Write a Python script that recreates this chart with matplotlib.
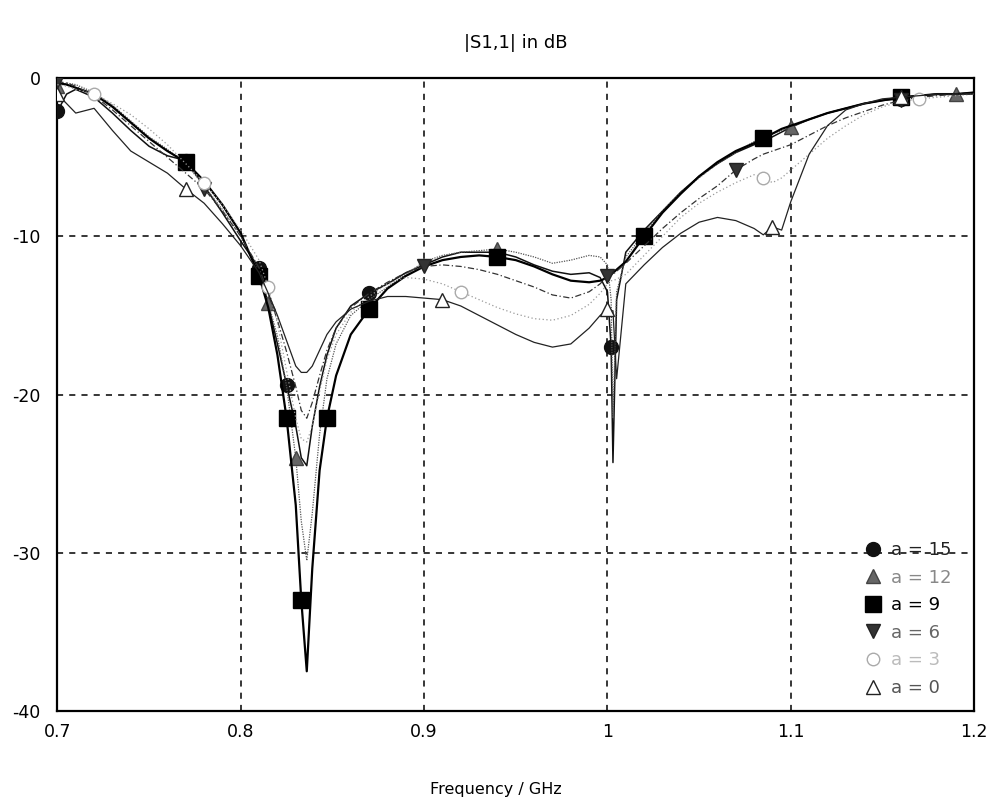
import matplotlib
matplotlib.use("Agg")
import matplotlib.pyplot as plt
from matplotlib.ticker import FixedLocator

plt.rcParams['font.family'] = ['DejaVu Sans']
plt.rcParams['axes.unicode_minus'] = False

title = "|S1,1| in dB"
xlabel = "Frequency / GHz"
xticks = [0.7, 0.8, 0.9, 1.0, 1.1, 1.2]
xticklabels = ["0.7", "0.8", "0.9", "1", "1.1", "1.2"]
yticks = [0, -10, -20, -30, -40]
yticklabels = ["0", "-10", "-20", "-30", "-40"]

freq = [0.700, 0.705, 0.710, 0.720, 0.730, 0.740, 0.750, 0.760, 0.770, 0.780,
        0.790, 0.800, 0.810, 0.815, 0.820, 0.825, 0.830, 0.833, 0.836, 0.839,
        0.843, 0.847, 0.852, 0.860, 0.870, 0.880, 0.890, 0.900, 0.910, 0.920,
        0.930, 0.940, 0.950, 0.960, 0.970, 0.980, 0.990, 0.996, 1.000, 1.002,
        1.003, 1.005, 1.010, 1.020, 1.030, 1.040, 1.050, 1.060, 1.070, 1.080,
        1.085, 1.090, 1.095, 1.100, 1.110, 1.120, 1.130, 1.140, 1.150, 1.160,
        1.170, 1.180, 1.190, 1.200]

s11_a15 = [-2.1, -1.0, -0.7, -1.2, -2.2, -3.3, -4.3, -4.9, -5.2, -6.8,
           -8.5, -10.3, -12.0, -14.3, -16.8, -19.4, -22.0, -24.0, -24.5, -22.0,
           -19.5, -17.5, -15.8, -14.4, -13.6, -13.0, -12.3, -11.8, -11.3, -11.0,
           -11.0, -11.0, -11.3, -11.8, -12.2, -12.4, -12.3, -12.6, -13.5, -17.0,
           -24.3, -14.0, -11.0, -9.6, -8.4, -7.2, -6.2, -5.4, -4.7, -4.2,
           -4.0, -3.7, -3.4, -3.1, -2.6, -2.2, -1.9, -1.6, -1.4, -1.3,
           -1.1, -1.0, -1.0, -0.9]
s11_a12 = [-0.5, -0.3, -0.4, -0.9, -1.7, -2.7, -3.7, -4.5, -5.4, -6.8,
           -8.3, -10.0, -12.3, -14.2, -16.3, -19.5, -24.0, -28.0, -30.5, -27.5,
           -22.5, -19.0, -16.8, -15.0, -14.0, -13.2, -12.4, -11.6, -11.2, -11.0,
           -10.9, -10.8, -11.0, -11.3, -11.7, -11.5, -11.2, -11.3, -11.8, -14.0,
           -21.5, -13.5, -11.3, -9.8, -8.4, -7.2, -6.3, -5.4, -4.7, -4.0,
           -3.8, -3.5, -3.3, -3.1, -2.6, -2.2, -1.9, -1.6, -1.4, -1.2,
           -1.1, -1.0, -1.0, -1.0]
s11_a9 = [-0.3, -0.4, -0.6, -1.0, -1.8, -2.8, -3.8, -4.6, -5.3, -6.5,
          -8.0, -9.8, -12.5, -14.5, -17.5, -21.5, -27.0, -33.0, -37.5, -31.0,
          -24.8, -21.5, -18.8, -16.2, -14.6, -13.3, -12.5, -11.9, -11.5, -11.3,
          -11.2, -11.3, -11.5, -11.9, -12.4, -12.8, -12.9, -12.8, -12.6, -12.4,
          -12.3, -12.1, -11.6, -10.0, -8.5, -7.3, -6.2, -5.3, -4.6, -4.1,
          -3.8, -3.5, -3.2, -3.0, -2.6, -2.2, -1.9, -1.6, -1.4, -1.2,
          -1.1, -1.0, -1.0, -0.9]
s11_a6 = [-0.2, -0.3, -0.5, -1.1, -2.0, -3.0, -4.0, -5.0, -6.0, -7.0,
          -8.4, -10.0, -12.0, -13.6, -15.3, -17.3, -19.5, -21.0, -21.5, -20.5,
          -18.8, -17.2, -15.8, -14.5, -13.6, -12.9, -12.3, -11.9, -11.8, -11.9,
          -12.1, -12.4, -12.8, -13.2, -13.7, -13.9, -13.5, -13.0, -12.5, -12.4,
          -12.4, -12.2, -11.7, -10.6, -9.5, -8.5, -7.6, -6.8, -5.8, -5.1,
          -4.8, -4.6, -4.4, -4.2, -3.6, -3.0, -2.5, -2.1, -1.7, -1.4,
          -1.2, -1.1, -1.0, -1.0]
s11_a3 = [-0.4, -0.5, -0.7, -1.0, -1.6, -2.3, -3.2, -4.2, -5.4, -6.6,
          -8.0, -9.6, -11.5, -13.2, -15.5, -18.5, -21.5, -22.8, -23.0, -22.0,
          -19.8, -17.8, -16.2, -14.8, -13.8, -13.0, -12.6, -12.7, -13.0, -13.5,
          -14.0, -14.5, -14.9, -15.2, -15.3, -15.0, -14.3, -13.6, -13.0, -12.8,
          -12.8, -12.7, -12.4, -11.2, -10.0, -8.8, -7.9, -7.2, -6.6, -6.1,
          -6.3, -6.6, -6.3, -5.8, -4.8, -3.8, -3.0, -2.3, -1.8, -1.5,
          -1.3, -1.2, -1.1, -1.0]
s11_a0 = [-1.0, -1.6, -2.2, -1.9, -3.3, -4.6, -5.3, -6.0, -7.0, -7.9,
          -9.2, -10.6, -12.3, -13.6, -15.0, -16.6, -18.2, -18.6, -18.6, -18.2,
          -17.2, -16.2, -15.4, -14.6, -14.1, -13.8, -13.8, -13.9, -14.0, -14.4,
          -15.0, -15.6, -16.2, -16.7, -17.0, -16.8, -15.8, -15.0, -14.6, -14.7,
          -14.7, -19.0, -13.0, -11.8, -10.7, -9.8, -9.1, -8.8, -9.0, -9.5,
          -9.9, -9.4, -9.6, -7.8, -4.8, -3.0, -2.0, -1.6, -1.3, -1.2,
          -1.1, -1.0, -1.0, -1.0]

labels = ["a = 15", "a = 12", "a = 9", "a = 6", "a = 3", "a = 0"]
series = [s11_a15, s11_a12, s11_a9, s11_a6, s11_a3, s11_a0]

styles = [
    dict(color="#111111", lw=1.1, ls="-", marker="o", mfc="#111111", mec="#111111", ms=10,
         markevery=[0, 8, 12, 15, 24, 39, 59]),
    dict(color="#555555", lw=0.9, ls=(0, (1, 1)), marker="^", mfc="#666666", mec="#444444", ms=10,
         markevery=[0, 13, 16, 31, 53, 62]),
    dict(color="#000000", lw=1.6, ls="-", marker="s", mfc="#000000", mec="#000000", ms=11,
         markevery=[8, 12, 15, 17, 21, 24, 31, 43, 50, 59]),
    dict(color="#333333", lw=0.9, ls=(0, (5, 2, 1, 2)), marker="v", mfc="#333333", mec="#222222", ms=10,
         markevery=[0, 9, 27, 38, 48, 59]),
    dict(color="#999999", lw=0.9, ls=(0, (1, 2)), marker="o", mfc="white", mec="#aaaaaa", ms=9,
         markevery=[3, 9, 13, 29, 50, 60]),
    dict(color="#222222", lw=0.9, ls="-", marker="^", mfc="white", mec="#222222", ms=10,
         markevery=[0, 8, 28, 38, 51, 59]),
]

fig = plt.figure(figsize=(9.9, 8.02), dpi=100)
ax = fig.add_axes([0.058, 0.1137, 0.926, 0.7887])

for vals, lab, st in zip(series, labels, styles):
    ax.plot(freq, vals, label=lab, markeredgewidth=1.0, zorder=3, **st)

ax.set_xlim(0.7, 1.2)
ax.set_ylim(-40, 0)
ax.xaxis.set_major_locator(FixedLocator(xticks))
ax.set_xticklabels(xticklabels, fontsize=12.5)
ax.yaxis.set_major_locator(FixedLocator(yticks))
ax.set_yticklabels(yticklabels, fontsize=12.5)
ax.tick_params(axis="x", length=0, pad=9)
ax.tick_params(axis="y", length=0, pad=12)
ax.grid(True, color="black", ls=(0, (4, 4)), lw=1.1)
for sp in ax.spines.values():
    sp.set_linewidth(1.6)
    sp.set_color("black")

fig.text(0.521, 0.947, title, ha="center", va="center", fontsize=13)
fig.text(0.501, 0.015, xlabel, ha="center", va="center", fontsize=11.5)

leg = ax.legend(loc="lower left", bbox_to_anchor=(0.882, 0.022), frameon=False,
                fontsize=13, handlelength=0.8, handletextpad=0.6, labelspacing=0.53,
                borderaxespad=0.0, borderpad=0.0)
text_colors = ["#222222", "#888888", "#000000", "#666666", "#bbbbbb", "#555555"]
for t, c in zip(leg.get_texts(), text_colors):
    t.set_color(c)
for h in leg.legend_handles:
    h.set_linestyle("None")

fig.savefig("out.png", dpi=100, facecolor="white")
